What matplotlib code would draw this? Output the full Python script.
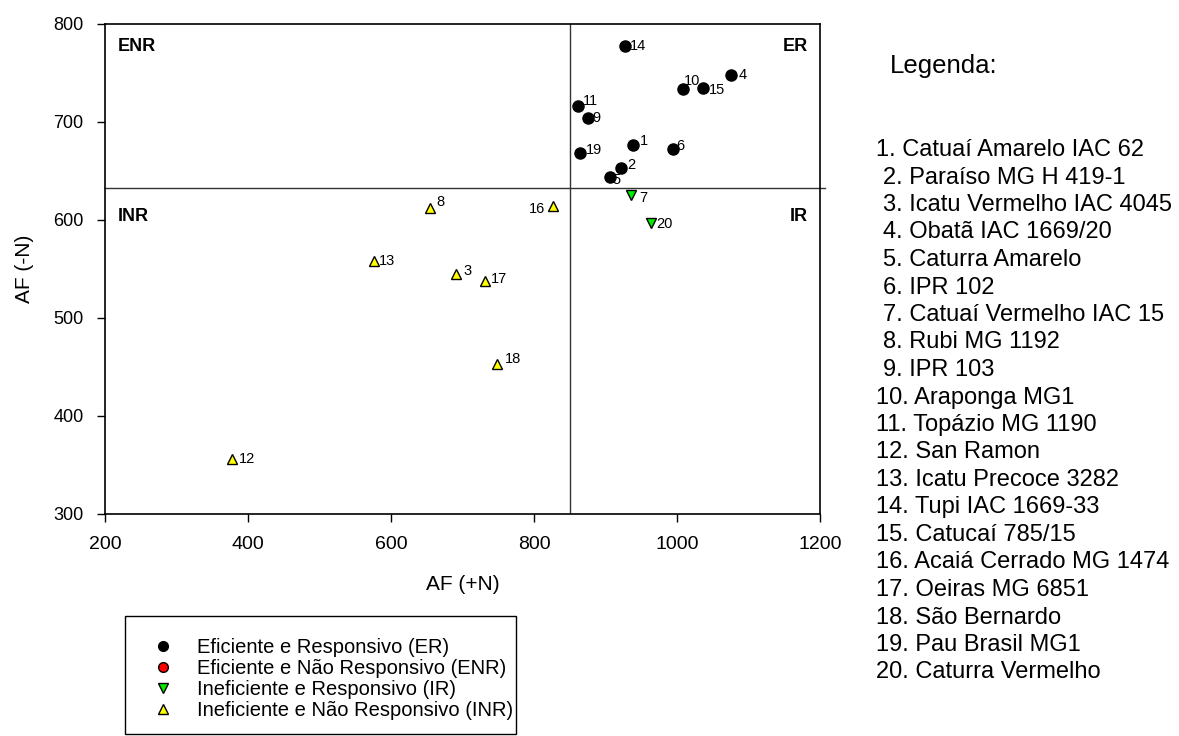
import matplotlib
matplotlib.use("Agg")
import matplotlib.pyplot as plt
from matplotlib.lines import Line2D
from matplotlib.patches import Rectangle

plt.rcParams['font.family'] = ['Liberation Sans', 'DejaVu Sans']

# Cultivar numbers, AF with (+N) and without (-N) nitrogen, and response class
ids = list(range(1, 21))
af_plus = [939, 922, 691, 1075, 906, 994, 936, 654, 876, 1008,
           861, 378, 576, 927, 1036, 826, 731, 748, 864, 963]
af_minus = [677, 653, 545, 748, 644, 672, 626, 612, 704, 734,
            716, 356, 558, 778, 735, 614, 538, 453, 668, 597]
groups = ['ER', 'ER', 'INR', 'ER', 'ER', 'ER', 'IR', 'INR', 'ER', 'ER',
          'ER', 'INR', 'INR', 'ER', 'ER', 'INR', 'INR', 'INR', 'ER', 'IR']

# Quadrant dividers
x_cut = 850
y_cut = 633

cultivars = ["Catuaí Amarelo IAC 62", "Paraíso MG H 419-1", "Icatu Vermelho IAC 4045",
             "Obatã IAC 1669/20", "Caturra Amarelo", "IPR 102", "Catuaí Vermelho IAC 15",
             "Rubi MG 1192", "IPR 103", "Araponga MG1", "Topázio MG 1190", "San Ramon",
             "Icatu Precoce 3282", "Tupi IAC 1669-33", "Catucaí 785/15",
             "Acaiá Cerrado MG 1474", "Oeiras MG 6851", "São Bernardo", "Pau Brasil MG1",
             "Caturra Vermelho"]

classes = ['ER', 'ENR', 'IR', 'INR']
class_names = ["Eficiente e Responsivo (ER)", "Eficiente e Não Responsivo (ENR)",
               "Ineficiente e Responsivo (IR)", "Ineficiente e Não Responsivo (INR)"]
styles = {
    'ER': dict(marker='o', mfc='black', ms=8),
    'ENR': dict(marker='o', mfc='#ff0000', ms=8),
    'IR': dict(marker='v', mfc='#00ee00', ms=7.5),
    'INR': dict(marker='^', mfc='#ffff00', ms=7.5),
}

# point-label offsets in pixels (dx, dy) and alignment
label_offsets = {
    1: (6, 4), 2: (6, 3), 3: (7, 3), 4: (8, 0), 5: (3, -3), 6: (4, 3),
    7: (8, -3), 8: (7, 6), 9: (4, 0), 10: (1, 8), 11: (5, 5), 12: (7, 0),
    13: (5, 0), 14: (5, 0), 15: (6, -2), 16: (-7, -3), 17: (6, 2),
    18: (8, 5), 19: (6, 3), 20: (6, -1),
}

W, H = 1179, 736
fig = plt.figure(figsize=(W / 100, H / 100), dpi=100)
ax = fig.add_axes([105 / W, 1 - 514 / H, 715 / W, 490 / H])

ax.set_xlim(200, 1200)
ax.set_ylim(300, 800)
ax.set_xticks([200, 400, 600, 800, 1000, 1200])
ax.set_yticks([300, 400, 500, 600, 700, 800])
ax.tick_params(direction='out', length=6, width=1, pad=9.5)
ax.tick_params(axis='x', labelsize=14)
ax.tick_params(axis='y', labelsize=13)
for s in ax.spines.values():
    s.set_linewidth(1.2)

ax.axvline(x_cut, color='#333333', lw=1, zorder=1)
ax.plot([200, 1207], [y_cut, y_cut], color='#333333', lw=1, clip_on=False, zorder=1)

for cls in classes:
    xs = [x for x, g in zip(af_plus, groups) if g == cls]
    ys = [y for y, g in zip(af_minus, groups) if g == cls]
    if xs:
        st = styles[cls]
        ax.plot(xs, ys, ls='none', marker=st['marker'], ms=st['ms'],
                mfc=st['mfc'], mec='black', mew=1, zorder=3)

for i, x, y in zip(ids, af_plus, af_minus):
    dx, dy = label_offsets[i]
    ax.annotate(str(i), (x, y), xytext=(dx, dy), textcoords='offset pixels',
                ha='right' if dx < 0 else 'left', va='center', fontsize=10.5, zorder=4)

# quadrant names
qkw = dict(transform=ax.transAxes, fontsize=13, fontweight='bold', va='center')
ax.text(0.018, 0.955, "ENR", **qkw)
ax.text(0.983, 0.955, "ER", ha='right', **qkw)
ax.text(0.018, 0.608, "INR", **qkw)
ax.text(0.983, 0.608, "IR", ha='right', **qkw)

ax.set_xlabel("AF (+N)", fontsize=15, labelpad=16)
ax.set_ylabel("AF (-N)", fontsize=15, labelpad=13.5)

# marker legend in a plain box
fig.patches.append(Rectangle((125 / W, 1 - 734 / H), 391 / W, 118 / H,
                             transform=fig.transFigure, fill=False,
                             edgecolor='black', lw=1))
handles = [Line2D([], [], ls='none', marker=styles[c]['marker'], ms=styles[c]['ms'] - 1,
                  mfc=styles[c]['mfc'], mec='black', mew=1) for c in classes]
fig.legend(handles, class_names, loc='upper left',
           bbox_to_anchor=(149 / W, 1 - 638 / H), bbox_transform=fig.transFigure,
           frameon=False, fontsize=14.5, handlelength=1.4, handletextpad=0.99,
           borderpad=0, borderaxespad=0, labelspacing=0.1, numpoints=1)

# cultivar key
fig.text(890 / W, 1 - 66 / H, "Legenda:", fontsize=18.5, va='center')
for k, name in enumerate(cultivars):
    n = k + 1
    x0 = 883 if 2 <= n <= 9 else 876
    fig.text(x0 / W, 1 - (150 + 27.5 * k) / H, f"{n}. {name}", fontsize=17, va='center')

fig.savefig("out.png", dpi=100)
